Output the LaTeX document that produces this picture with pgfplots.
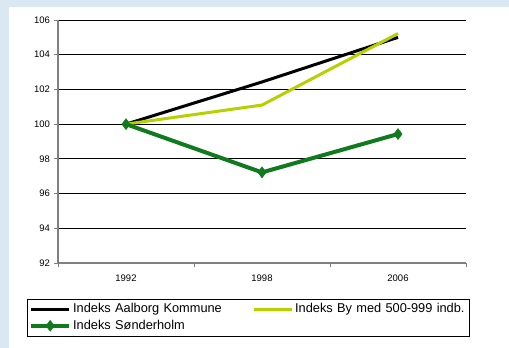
\documentclass[border=0pt]{standalone}
\usepackage{pgfplots}
\pgfplotsset{compat=1.18}
\usepackage{fontspec}
\setmainfont{Liberation Sans}
\definecolor{bgblue}{RGB}{217,232,243}
\definecolor{limeline}{RGB}{182,208,0}
\definecolor{darkgreen}{RGB}{18,122,30}
\definecolor{axisgray}{RGB}{128,128,128}
\begin{document}
\begin{tikzpicture}[x=1pt,y=1pt]
\fill[bgblue] (0,0) rectangle (509,348);
\fill[white] (9,0) rectangle (509,341);
\begin{axis}[
    at={(58pt,85pt)}, anchor=south west,
    scale only axis,
    width=408pt, height=243pt,
    xmin=-0.5, xmax=2.5,
    ymin=92, ymax=106,
    ytick={92,94,...,106},
    xtick={0,1,2},
    xticklabels={1992,1998,2006},
    minor xtick={-0.5,0.5,1.5,2.5},
    axis x line*=bottom,
    axis y line*=left,
    axis line style={axisgray, line width=1.2pt, -},
    ymajorgrids,
    major grid style={black, line width=0.8pt},
    major x tick style={draw=none},
    minor x tick style={axisgray, line width=0.8pt},
    major y tick style={axisgray, line width=0.8pt},
    tick align=outside,
    major tick length=4pt,
    minor tick length=4pt,
    tick label style={font=\fontsize{9.5}{11}\selectfont},
    /pgf/number format/assume math mode=true,
    yticklabel style={xshift=-0.5pt},
    xticklabel style={yshift=-4pt},
    clip=false,
    legend columns=2,
    legend cell align=left,
    legend image code/.code={\draw[mark repeat=2,mark phase=2,#1] plot coordinates {(0pt,0pt) (19pt,0pt) (38pt,0pt)};},
    legend style={at={(-0.076,-0.148)}, anchor=north west, draw=black,
        font=\fontsize{12.8}{14}\selectfont, inner xsep=2pt, inner ysep=2.5pt,
        row sep=2pt,
        /tikz/column 2/.style={text width=176pt},
        /tikz/column 4/.style={text width=170pt},
        /tikz/every even column/.append style={column sep=1pt}},
]
\addplot[black, line width=3pt, mark=none] coordinates {(0,100) (1,102.43) (2,105.0)};
\addlegendentry{Indeks Aalborg Kommune}
\addplot[limeline, line width=3pt, mark=none] coordinates {(0,100) (1,101.1) (2,105.22)};
\addlegendentry{Indeks By med 500-999 indb.}
\addplot[darkgreen, line width=4pt, mark=diamond*, mark size=5.5pt, mark options={solid, line width=0.5pt}] coordinates {(0,100) (1,97.22) (2,99.43)};
\addlegendentry{Indeks Sønderholm}
\end{axis}
\end{tikzpicture}
\end{document}
